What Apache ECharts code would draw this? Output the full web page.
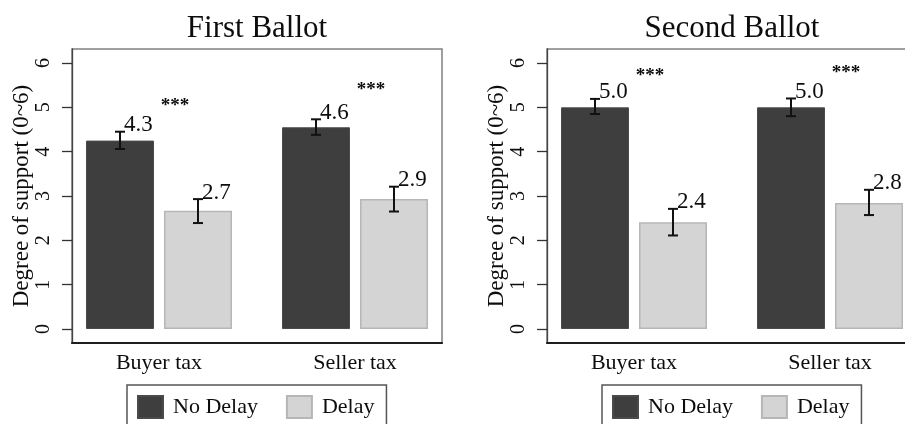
<!DOCTYPE html>
<html><head><meta charset="utf-8">
<script src="https://cdn.jsdelivr.net/npm/echarts@6/dist/echarts.min.js"></script>
<style>html,body{margin:0;padding:0;background:#fff}#c{width:905px;height:424px}</style>
</head><body><div id="c"></div>
<script>
// ---------- data ----------
const categories = ['Buyer tax', 'Seller tax'];
const seriesNames = ['No Delay', 'Delay'];
const panelTitles = ['First Ballot', 'Second Ballot'];
const yAxisTitle = 'Degree of support (0~6)';
const yTicks = [0, 1, 2, 3, 4, 5, 6];

// First ballot
const first_noDelay = [4.25, 4.55];
const first_noDelayLow = [4.06, 4.38];
const first_noDelayHigh = [4.45, 4.73];
const first_noDelayLabels = ['4.3', '4.6'];
const first_delay = [2.67, 2.93];
const first_delayLow = [2.39, 2.65];
const first_delayHigh = [2.93, 3.21];
const first_delayLabels = ['2.7', '2.9'];
const first_starsY = [5.09, 5.45];

// Second ballot
const second_noDelay = [5.0, 5.0];
const second_noDelayLow = [4.85, 4.80];
const second_noDelayHigh = [5.19, 5.20];
const second_noDelayLabels = ['5.0', '5.0'];
const second_delay = [2.41, 2.84];
const second_delayLow = [2.11, 2.57];
const second_delayHigh = [2.71, 3.14];
const second_delayLabels = ['2.4', '2.8'];
const second_starsY = [5.78, 5.84];

const starText = ['***', '***'];

// ---------- styling / layout ----------
const FONT = "'Liberation Serif', 'Times New Roman', serif";
const TXT = '#0d0d0d';
const DARK = '#3e3e3e';
const LIGHT = '#d4d4d4';
const BAR_W = 68, BAR_GAP = 10;
const DODGE = (BAR_W + BAR_GAP) / 2;
const PANEL_SHIFT = 475;

function errRender(dx, labels) {
  return function (params, api) {
    const i = api.value(0);
    const lo = api.coord([i, api.value(1)]);
    const hi = api.coord([i, api.value(2)]);
    const x = lo[0] + dx;
    const cap = 5;
    const st = { stroke: '#111', lineWidth: 2 };
    return {
      type: 'group', children: [
        { type: 'line', shape: { x1: x, y1: lo[1], x2: x, y2: hi[1] }, style: st },
        { type: 'line', shape: { x1: x - cap, y1: hi[1], x2: x + cap, y2: hi[1] }, style: st },
        { type: 'line', shape: { x1: x - cap, y1: lo[1], x2: x + cap, y2: lo[1] }, style: st },
        { type: 'text', x: x + 4, y: hi[1] + 5,
          style: { text: labels[params.dataIndex], fontSize: 23, fontFamily: FONT, fill: TXT,
                   textAlign: 'left', textVerticalAlign: 'bottom' } }
      ]
    };
  };
}
function starRender(params, api) {
  const p = api.coord([api.value(0), api.value(1)]);
  return { type: 'text', x: p[0] + 16, y: p[1] + 3,
    style: { text: starText[params.dataIndex], fontSize: 19, fontWeight: 'bold', fontFamily: FONT,
             fill: TXT, textAlign: 'center', textVerticalAlign: 'middle' } };
}

function panel(k) {
  const dx = k * PANEL_SHIFT;
  const grids = [
    { left: 61 + dx, top: 63, width: 392, height: 266, outerBoundsMode: 'none', containLabel: false },
    { left: 72 + dx, top: 49, width: 370, height: 294, show: true, borderColor: '#808080', borderWidth: 1.5,
      backgroundColor: 'transparent', outerBoundsMode: 'none', containLabel: false }
  ];
  const g0 = 2 * k, g1 = 2 * k + 1;
  const xAxes = [
    { type: 'category', gridIndex: g0, data: categories, axisLine: { show: false }, axisTick: { show: false },
      axisLabel: { fontSize: 22, fontFamily: FONT, color: TXT, margin: 23 } },
    { type: 'value', gridIndex: g1, position: 'bottom', min: 0, max: 1, axisLine: { show: true, lineStyle: { color: '#1e1e1e', width: 2.2 } },
      axisTick: { show: false }, axisLabel: { show: false }, splitLine: { show: false } },
    { type: 'value', gridIndex: g1, position: 'top', min: 0, max: 1, axisLine: { show: false },
      axisTick: { show: false }, axisLabel: { show: false }, splitLine: { show: false },
      name: panelTitles[k], nameLocation: 'middle', nameGap: 5,
      nameTextStyle: { fontSize: 31, fontFamily: FONT, color: TXT } }
  ];
  const yAxes = [
    { type: 'value', gridIndex: g0, min: 0, max: 6, interval: 1, offset: -11,
      axisLine: { show: false }, axisTick: { show: true, length: 10, lineStyle: { color: '#333', width: 1.3 } },
      axisLabel: { rotate: 90, fontSize: 20, fontFamily: FONT, color: TXT, margin: 18,
                   formatter: v => yTicks.includes(v) ? String(v) : '' },
      splitLine: { show: false },
      name: yAxisTitle, nameLocation: 'middle', nameGap: 39,
      nameTextStyle: { fontSize: 23, fontFamily: FONT, color: TXT } },
    { type: 'value', gridIndex: g1, min: 0, max: 1, axisLine: { show: true, lineStyle: { color: '#444', width: 1.3 } },
      axisTick: { show: false }, axisLabel: { show: false }, splitLine: { show: false } }
  ];
  return { grids, xAxes, yAxes };
}

const P = [panel(0), panel(1)];
const panelData = [
  { nd: first_noDelay, ndLo: first_noDelayLow, ndHi: first_noDelayHigh, ndLab: first_noDelayLabels,
    d: first_delay, dLo: first_delayLow, dHi: first_delayHigh, dLab: first_delayLabels, stars: first_starsY },
  { nd: second_noDelay, ndLo: second_noDelayLow, ndHi: second_noDelayHigh, ndLab: second_noDelayLabels,
    d: second_delay, dLo: second_delayLow, dHi: second_delayHigh, dLab: second_delayLabels, stars: second_starsY }
];

const series = [];
panelData.forEach((pd, k) => {
  const xi = 3 * k, yi = 2 * k;
  series.push({ type: 'bar', name: seriesNames[0], xAxisIndex: xi, yAxisIndex: yi, data: pd.nd,
    barWidth: BAR_W, barGap: (BAR_GAP / BAR_W * 100) + '%',
    itemStyle: { color: DARK, borderColor: '#4a4a4a', borderWidth: 1 }, silent: true });
  series.push({ type: 'bar', name: seriesNames[1], xAxisIndex: xi, yAxisIndex: yi, data: pd.d,
    barWidth: BAR_W, barGap: (BAR_GAP / BAR_W * 100) + '%',
    itemStyle: { color: LIGHT, borderColor: '#b6b6b6', borderWidth: 1.5 }, silent: true });
  series.push({ type: 'custom', xAxisIndex: xi, yAxisIndex: yi, z: 5, silent: true,
    data: categories.map((c, i) => [i, pd.ndLo[i], pd.ndHi[i]]),
    encode: { x: 0, y: [1, 2] }, renderItem: errRender(-DODGE, pd.ndLab) });
  series.push({ type: 'custom', xAxisIndex: xi, yAxisIndex: yi, z: 5, silent: true,
    data: categories.map((c, i) => [i, pd.dLo[i], pd.dHi[i]]),
    encode: { x: 0, y: [1, 2] }, renderItem: errRender(DODGE, pd.dLab) });
  series.push({ type: 'custom', xAxisIndex: xi, yAxisIndex: yi, z: 5, silent: true,
    data: categories.map((c, i) => [i, pd.stars[i]]),
    encode: { x: 0, y: 1 }, renderItem: starRender });
});

const legendBase = {
  data: seriesNames, top: 385, orient: 'horizontal', icon: 'rect', itemWidth: 25, itemHeight: 22,
  itemGap: 28, padding: [10, 12, 10, 10], borderColor: '#555', borderWidth: 1.5, selectedMode: false,
  textStyle: { fontSize: 22, fontFamily: FONT, color: TXT, padding: [0, 0, 0, 5] }
};

const option = {
  animation: false,
  backgroundColor: '#fff',
  grid: [...P[0].grids, ...P[1].grids],
  xAxis: [...P[0].xAxes, ...P[1].xAxes],
  yAxis: [...P[0].yAxes, ...P[1].yAxes],
  legend: [Object.assign({}, legendBase, { left: 127 }), Object.assign({}, legendBase, { left: 127 + PANEL_SHIFT })],
  series
};
const chart = echarts.init(document.getElementById('c'), null, { renderer: 'canvas' });
chart.setOption(option);
</script></body></html>
